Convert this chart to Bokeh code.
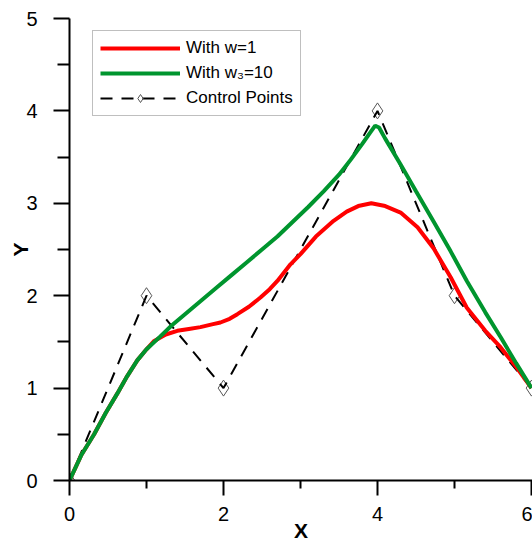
from bokeh.plotting import figure
from bokeh.models import Range1d, FixedTicker, Legend, LegendItem
from bokeh.embed import file_html
from bokeh.resources import INLINE

# Control polygon
ctrl_x = [0, 1, 2, 4, 5, 6]
ctrl_y = [0, 2, 1, 4, 2, 1]

# Curve with w=1
red_x = [0, 0.15, 0.32, 0.47, 0.62, 0.75, 0.88, 1.0, 1.1, 1.25, 1.4, 1.55, 1.7, 1.85,
         1.96, 2.08, 2.18, 2.33, 2.48, 2.6, 2.7, 2.87, 3.0, 3.2, 3.43, 3.6, 3.75, 3.92,
         4.1, 4.3, 4.52, 4.73, 4.95, 5.16, 5.4, 5.6, 5.8, 6.0]
red_y = [0, 0.27, 0.50, 0.73, 0.94, 1.13, 1.30, 1.42, 1.51, 1.58, 1.62, 1.64, 1.66, 1.69,
         1.71, 1.75, 1.80, 1.88, 1.98, 2.07, 2.16, 2.34, 2.45, 2.64, 2.81, 2.91, 2.97, 3.00,
         2.97, 2.90, 2.74, 2.51, 2.20, 1.87, 1.62, 1.44, 1.23, 1.0]

# Curve with w3=10
green_x = [0, 0.15, 0.32, 0.47, 0.62, 0.75, 0.88, 1.0, 1.18, 1.33, 1.5, 1.7, 1.9, 2.1,
           2.3, 2.5, 2.7, 2.9, 3.1, 3.3, 3.5, 3.65, 3.8, 3.9, 3.97, 4.02, 4.1,
           4.3, 4.5, 4.73, 4.95, 5.16, 5.4, 5.6, 5.8, 6.0]
green_y = [0, 0.27, 0.50, 0.73, 0.94, 1.13, 1.30, 1.42, 1.56, 1.68, 1.80, 1.94, 2.08, 2.22,
           2.36, 2.50, 2.64, 2.80, 2.96, 3.13, 3.31, 3.47, 3.64, 3.76, 3.84, 3.82, 3.70,
           3.42, 3.13, 2.80, 2.48, 2.16, 1.82, 1.55, 1.27, 1.0]

x_major = [0, 2, 4, 6]
x_minor = [1, 3, 5]
y_major = [0, 1, 2, 3, 4, 5]
y_minor = [0.5, 1.5, 2.5, 3.5, 4.5]

FONT = "Liberation Sans"

p = figure(width=532, height=544, x_range=Range1d(0, 6.013), y_range=Range1d(0, 5),
           output_backend="svg", toolbar_location=None,
           min_border_left=69, min_border_right=0, min_border_top=18, min_border_bottom=64)
p.outline_line_color = None
p.grid.visible = False
p.background_fill_color = "white"
p.border_fill_color = "white"

for ax, maj, mnr, tout, mout in ((p.xaxis[0], x_major, x_minor, 15, 8),
                                 (p.yaxis[0], y_major, y_minor, 16, 12)):
    ax.ticker = FixedTicker(ticks=maj, minor_ticks=mnr)
    ax.axis_line_width = 2
    ax.axis_line_color = "black"
    ax.major_tick_line_width = 2
    ax.minor_tick_line_width = 2
    ax.major_tick_in = 0
    ax.minor_tick_in = 0
    ax.major_tick_out = tout
    ax.minor_tick_out = mout
    ax.major_label_text_font = FONT
    ax.major_label_text_font_size = "20px"
    ax.major_label_text_color = "black"
    ax.axis_label_text_font = FONT
    ax.axis_label_text_font_size = "21px"
    ax.axis_label_text_font_style = "bold"
    ax.axis_label_text_color = "black"

p.xaxis.axis_label = "X"
p.yaxis.axis_label = "Y"
p.xaxis.major_label_standoff = 11
p.xaxis.axis_label_standoff = -5
p.yaxis.major_label_standoff = 16
p.yaxis.axis_label_standoff = -9
p.yaxis.major_label_orientation = "horizontal"

pts = p.scatter(ctrl_x, ctrl_y, marker="diamond", size=16, fill_color=None,
                line_color="#555555", line_width=1)
dash = p.line(ctrl_x, ctrl_y, line_color="black", line_width=2, line_dash="12 9")
red = p.line(red_x, red_y, line_color="#ff0000", line_width=4)
green = p.line(green_x, green_y, line_color="#00952e", line_width=4)

legend = Legend(items=[
    LegendItem(label="With w=1", renderers=[red]),
    LegendItem(label="With w\u2083=10", renderers=[green]),
    LegendItem(label="Control Points", renderers=[dash, pts]),
], location=(23, 364))
legend.label_text_font = FONT
legend.label_text_font_size = "17px"
legend.label_text_color = "black"
legend.glyph_width = 80
legend.glyph_height = 20
legend.label_standoff = 6
legend.label_height = 20
legend.spacing = 5
legend.padding = 7
legend.margin = 0
legend.border_line_color = "#808080"
legend.border_line_width = 1
legend.background_fill_alpha = 1
p.add_layout(legend)

open("out.html", "w").write(file_html(p, INLINE))
